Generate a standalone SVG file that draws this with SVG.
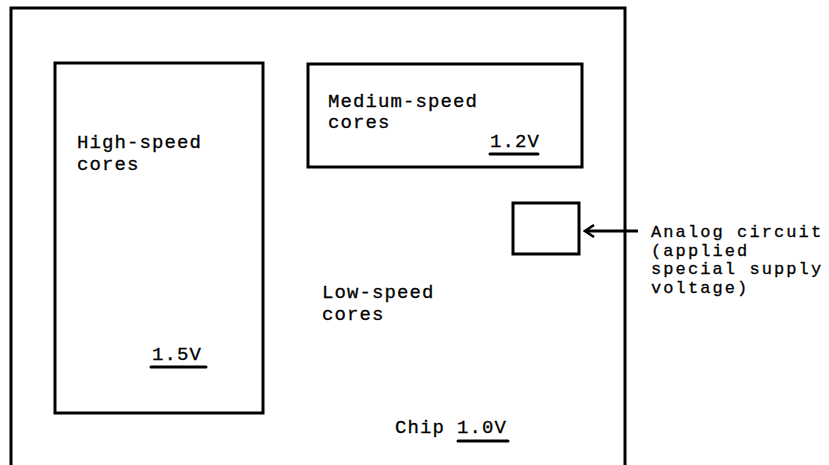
<svg xmlns="http://www.w3.org/2000/svg" width="829" height="465" viewBox="0 0 829 465">
<defs>
<style>
.box{fill:none;stroke:#000;stroke-width:3}
.t{font-family:"Liberation Mono","DejaVu Sans Mono",monospace;font-size:19px;letter-spacing:1.1px;fill:#000;stroke:#000;stroke-width:0.3}
.s{font-size:17px;letter-spacing:2.1px}
.ul{stroke:#000;stroke-width:3;stroke-linecap:round}
.conn{stroke:#000;stroke-width:3;fill:none}
</style>
<marker id="arr" viewBox="0 0 12 14" refX="10" refY="7" markerWidth="12" markerHeight="14" markerUnits="userSpaceOnUse" orient="auto">
<path d="M1,1 L10,7 L1,13" fill="none" stroke="#000" stroke-width="2.5"/>
</marker>
</defs>
<rect width="829" height="465" fill="#fff"/>
<g id="chip">
<path class="box" d="M11,470 V8 H625 V470"/>
<text class="t" x="395" y="433">Chip</text>
<text class="t" x="457" y="433">1.0V</text>
<line class="ul" x1="458" y1="441" x2="508" y2="441"/>
</g>
<g id="high-speed">
<rect class="box" x="55" y="63" width="208" height="350"/>
<text class="t" x="77" y="148">High-speed</text>
<text class="t" x="77" y="170">cores</text>
<text class="t" x="152" y="360">1.5V</text>
<line class="ul" x1="151" y1="367" x2="206" y2="367"/>
</g>
<g id="medium-speed">
<rect class="box" x="308" y="64" width="274" height="103"/>
<text class="t" x="328" y="107">Medium-speed</text>
<text class="t" x="328" y="128">cores</text>
<text class="t" x="490" y="147">1.2V</text>
<line class="ul" x1="490" y1="154" x2="538" y2="154"/>
</g>
<g id="low-speed">
<text class="t" x="322" y="298">Low-speed</text>
<text class="t" x="322" y="320">cores</text>
</g>
<g id="analog">
<rect class="box" x="513" y="203" width="66" height="51"/>
</g>
<g id="analog-label">
<text class="t s" x="651" y="237">Analog circuit</text>
<text class="t s" x="651" y="256">(applied</text>
<text class="t s" x="651" y="274">special supply</text>
<text class="t s" x="651" y="293">voltage)</text>
</g>
<g id="connectors">
<line class="conn" x1="638" y1="231" x2="585" y2="231" marker-end="url(#arr)"/>
</g>
</svg>
